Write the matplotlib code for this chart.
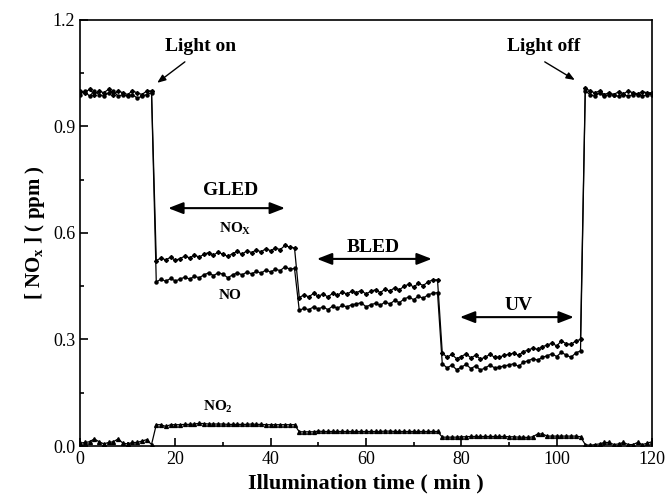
import numpy as np
import matplotlib
matplotlib.use("Agg")
import matplotlib.pyplot as plt
from matplotlib.ticker import MultipleLocator, FormatStrFormatter

plt.rcParams['font.family'] = ['Liberation Serif', 'DejaVu Serif']
plt.rcParams['mathtext.fontset'] = 'custom'
plt.rcParams['mathtext.rm'] = 'Liberation Serif:bold'
plt.rcParams['mathtext.it'] = 'Liberation Serif:bold'
plt.rcParams['mathtext.bf'] = 'Liberation Serif:bold'

# time in minutes, one reading per minute
time_min = np.arange(0, 121)

# NOx concentration (ppm): dark, GLED, BLED, UV, dark
nox_dark1 = [1.000, 0.995, 1.005, 0.990, 1.000, 0.995, 1.005, 0.990, 1.000, 0.995,
             0.990, 1.000, 0.995, 0.990, 1.000, 1.000]
nox_gled = [0.522, 0.530, 0.524, 0.532, 0.523, 0.528, 0.535, 0.530, 0.538, 0.532,
            0.540, 0.545, 0.538, 0.546, 0.540, 0.534, 0.542, 0.548, 0.540, 0.550,
            0.545, 0.552, 0.547, 0.556, 0.550, 0.558, 0.553, 0.565, 0.560, 0.558]
nox_bled = [0.418, 0.426, 0.420, 0.430, 0.422, 0.428, 0.420, 0.430, 0.424, 0.434,
            0.428, 0.436, 0.432, 0.438, 0.428, 0.436, 0.440, 0.432, 0.442, 0.436,
            0.446, 0.440, 0.450, 0.456, 0.448, 0.458, 0.452, 0.462, 0.468, 0.468]
nox_uv = [0.262, 0.250, 0.258, 0.246, 0.252, 0.260, 0.248, 0.256, 0.245, 0.250,
          0.258, 0.250, 0.250, 0.256, 0.258, 0.262, 0.255, 0.266, 0.270, 0.276,
          0.272, 0.280, 0.284, 0.290, 0.282, 0.296, 0.288, 0.286, 0.296, 0.300]
nox_dark2 = [1.008, 1.000, 0.995, 1.000, 0.990, 0.995, 0.990, 0.998, 0.992, 1.000,
             0.995, 0.992, 0.998, 0.995, 0.995]

# NO concentration (ppm)
no_dark1 = [0.990, 1.000, 0.985, 1.000, 0.990, 0.985, 0.995, 1.000, 0.985, 0.990,
            0.985, 0.990, 0.980, 0.985, 0.990, 0.995]
no_gled = [0.462, 0.470, 0.464, 0.472, 0.465, 0.470, 0.476, 0.470, 0.478, 0.474,
           0.482, 0.488, 0.480, 0.488, 0.484, 0.474, 0.482, 0.488, 0.482, 0.490,
           0.485, 0.492, 0.487, 0.496, 0.490, 0.498, 0.494, 0.505, 0.498, 0.500]
no_bled = [0.382, 0.388, 0.384, 0.392, 0.386, 0.392, 0.384, 0.394, 0.388, 0.396,
           0.392, 0.398, 0.400, 0.404, 0.392, 0.398, 0.402, 0.396, 0.406, 0.400,
           0.410, 0.404, 0.414, 0.420, 0.412, 0.422, 0.416, 0.426, 0.430, 0.432]
no_uv = [0.232, 0.220, 0.228, 0.215, 0.222, 0.230, 0.218, 0.226, 0.214, 0.220,
         0.228, 0.220, 0.222, 0.226, 0.228, 0.232, 0.224, 0.236, 0.240, 0.246,
         0.242, 0.250, 0.254, 0.260, 0.252, 0.264, 0.256, 0.250, 0.262, 0.268]
no_dark2 = [1.000, 0.990, 0.985, 0.995, 0.985, 0.990, 0.988, 0.985, 0.990, 0.985,
            0.990, 0.990, 0.985, 0.990, 0.990]

# NO2 concentration (ppm)
no2_dark1 = [0.008, 0.010, 0.012, 0.020, 0.012, 0.006, 0.010, 0.012, 0.020, 0.008,
             0.006, 0.010, 0.010, 0.014, 0.018, 0.004]
no2_gled = [0.060, 0.060, 0.055, 0.060, 0.060, 0.060, 0.061, 0.061, 0.062, 0.064,
            0.063, 0.062, 0.062, 0.062, 0.062, 0.061, 0.061, 0.061, 0.061, 0.061,
            0.062, 0.061, 0.061, 0.060, 0.060, 0.060, 0.060, 0.060, 0.060, 0.060]
no2_bled = [0.040, 0.040, 0.040, 0.040, 0.042, 0.041, 0.041, 0.041, 0.041, 0.041,
            0.041, 0.041, 0.041, 0.041, 0.041, 0.041, 0.041, 0.041, 0.042, 0.042,
            0.041, 0.041, 0.041, 0.041, 0.041, 0.041, 0.041, 0.041, 0.041, 0.041]
no2_uv = [0.025, 0.025, 0.025, 0.025, 0.026, 0.026, 0.027, 0.027, 0.027, 0.027,
          0.027, 0.027, 0.027, 0.027, 0.026, 0.026, 0.025, 0.025, 0.024, 0.026,
          0.034, 0.034, 0.028, 0.028, 0.028, 0.028, 0.028, 0.028, 0.028, 0.026]
no2_dark2 = [0.004, 0.002, 0.004, 0.006, 0.010, 0.010, 0.004, 0.006, 0.010, 0.004,
             0.004, 0.010, 0.004, 0.008, 0.012]

nox = np.array(nox_dark1 + nox_gled + nox_bled + nox_uv + nox_dark2)
no = np.array(no_dark1 + no_gled + no_bled + no_uv + no_dark2)
no2 = np.array(no2_dark1 + no2_gled + no2_bled + no2_uv + no2_dark2)

fig = plt.figure(figsize=(6.69, 5.03), dpi=100)
ax = fig.add_axes([0.1196, 0.1133, 0.855, 0.847])

ax.plot(time_min, nox, color='black', lw=0.9, marker='D', ms=2.0)
ax.plot(time_min, no, color='black', lw=0.9, marker='o', ms=2.2)
ax.plot(time_min, no2, color='black', lw=0.9, marker='^', ms=2.8)

ax.set_xlim(0, 120)
ax.set_ylim(0, 1.2)
ax.xaxis.set_major_locator(MultipleLocator(20))
ax.xaxis.set_minor_locator(MultipleLocator(10))
ax.yaxis.set_major_locator(MultipleLocator(0.3))
ax.yaxis.set_minor_locator(MultipleLocator(0.15))
ax.yaxis.set_major_formatter(FormatStrFormatter('%.1f'))
ax.tick_params(which='both', direction='in', labelsize=13, width=1.2)
ax.tick_params(which='major', length=6)
ax.tick_params(which='minor', length=3)
for s in ax.spines.values():
    s.set_linewidth(1.2)

ax.set_xlabel('Illumination time ( min )', fontsize=16, fontweight='bold', labelpad=4)
ax.set_ylabel(r'[ NO$_\mathrm{x}$ ] ( ppm )', fontsize=15, fontweight='bold')

# light on / off labels with arrows
arr = dict(arrowstyle='-|>,head_length=0.5,head_width=0.2', color='black', lw=1.0,
           shrinkA=0, shrinkB=0)
ax.text(25.2, 1.124, 'Light on', fontsize=14, fontweight='bold', ha='center', va='center')
ax.annotate('', xy=(16.2, 1.023), xytext=(22.0, 1.082), arrowprops=arr)
ax.text(97.3, 1.126, 'Light off', fontsize=14, fontweight='bold', ha='center', va='center')
ax.annotate('', xy=(103.8, 1.031), xytext=(97.5, 1.082), arrowprops=arr)

# illumination periods
dbl = dict(arrowstyle='<|-|>,head_length=0.9,head_width=0.35', color='black', lw=1.5,
           shrinkA=0, shrinkB=0)
ax.annotate('', xy=(18.5, 0.670), xytext=(43.0, 0.670), arrowprops=dbl)
ax.text(31.5, 0.72, 'GLED', fontsize=14, fontweight='bold', ha='center', va='center')
ax.annotate('', xy=(49.7, 0.527), xytext=(73.8, 0.527), arrowprops=dbl)
ax.text(61.5, 0.56, 'BLED', fontsize=14, fontweight='bold', ha='center', va='center')
ax.annotate('', xy=(79.7, 0.363), xytext=(103.6, 0.363), arrowprops=dbl)
ax.text(92.1, 0.396, 'UV', fontsize=14, fontweight='bold', ha='center', va='center')

# series labels
ax.text(32.5, 0.612, r'NO$_\mathrm{X}$', fontsize=11, fontweight='bold', ha='center', va='center')
ax.text(31.5, 0.425, 'NO', fontsize=11, fontweight='bold', ha='center', va='center')
ax.text(29, 0.11, r'NO$_\mathrm{2}$', fontsize=11, fontweight='bold', ha='center', va='center')

fig.savefig('out.png', dpi=100)
